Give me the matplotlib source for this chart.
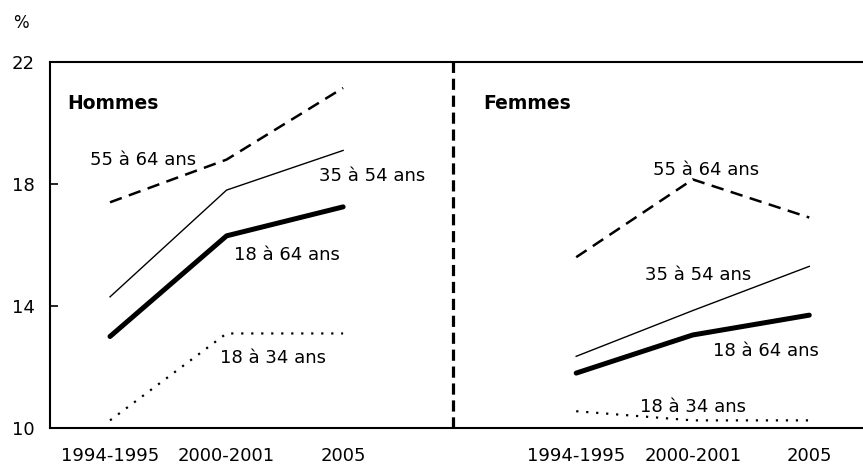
import matplotlib
matplotlib.use("Agg")
import matplotlib.pyplot as plt

periods = ["1994-1995", "2000-2001", "2005"]
hommes_x = [0, 1, 2]
femmes_x = [4, 5, 6]

hommes_55_64 = [17.4, 18.8, 21.15]
hommes_35_54 = [14.3, 17.8, 19.1]
hommes_18_64 = [13.0, 16.3, 17.25]
hommes_18_34 = [10.25, 13.1, 13.1]

femmes_55_64 = [15.6, 18.15, 16.9]
femmes_35_54 = [12.35, 13.85, 15.3]
femmes_18_64 = [11.8, 13.05, 13.7]
femmes_18_34 = [10.55, 10.25, 10.25]

yticks = [10, 14, 18, 22]

plt.rcParams['font.family'] = ['DejaVu Sans']

fig = plt.figure(figsize=(8.63, 4.70), dpi=100)
ax = fig.add_axes([50/863, 1-428/470, 1-50/863 + 0.01, (428-62)/470])

styles = {
    "55": dict(color="black", lw=1.8, linestyle=(0, (5, 3))),
    "35": dict(color="black", lw=1.0, linestyle="-"),
    "18_64": dict(color="black", lw=3.6, linestyle="-", solid_capstyle="round"),
    "18_34": dict(color="black", lw=1.6, linestyle=(0, (1, 3.5))),
}

for xs, a, b, c, d in [(hommes_x, hommes_55_64, hommes_35_54, hommes_18_64, hommes_18_34),
                       (femmes_x, femmes_55_64, femmes_35_54, femmes_18_64, femmes_18_34)]:
    ax.plot(xs, a, **styles["55"])
    ax.plot(xs, b, **styles["35"])
    ax.plot(xs, c, **styles["18_64"])
    ax.plot(xs, d, **styles["18_34"])

ax.axvline(2.944, color="black", lw=2.3, linestyle=(0, (3.5, 1.8)))

fs = 13
lab = dict(fontsize=fs, ha="left", va="center")
ax.text(-0.17, 18.8, "55 à 64 ans", **lab)
ax.text(1.79, 18.26, "35 à 54 ans", **lab)
ax.text(1.06, 15.67, "18 à 64 ans", **lab)
ax.text(0.94, 12.3, "18 à 34 ans", **lab)

ax.text(4.66, 18.46, "55 à 64 ans", **lab)
ax.text(4.59, 15.02, "35 à 54 ans", **lab)
ax.text(5.17, 12.52, "18 à 64 ans", **lab)
ax.text(4.55, 10.69, "18 à 34 ans", **lab)

ax.text(-0.37, 20.65, "Hommes", fontsize=13.5, fontweight="bold", ha="left", va="center")
ax.text(3.20, 20.65, "Femmes", fontsize=13.5, fontweight="bold", ha="left", va="center")

ax.set_xlim(-0.515, 6.535)
ax.set_ylim(10, 22)
ax.set_yticks(yticks)
ax.set_yticklabels([str(t) for t in yticks], fontsize=fs)
ax.set_xticks(hommes_x + femmes_x)
ax.set_xticklabels(periods + periods, fontsize=fs)
ax.tick_params(axis="x", length=0, pad=14)
ax.tick_params(axis="y", direction="in", length=6, width=1.2, pad=11)

for s in ["left", "top", "bottom"]:
    ax.spines[s].set_linewidth(1.5)
ax.spines["right"].set_visible(False)

fig.text(13/863, 1-23/470, "%", fontsize=12, ha="left", va="center")

fig.savefig("out.png", dpi=100)
